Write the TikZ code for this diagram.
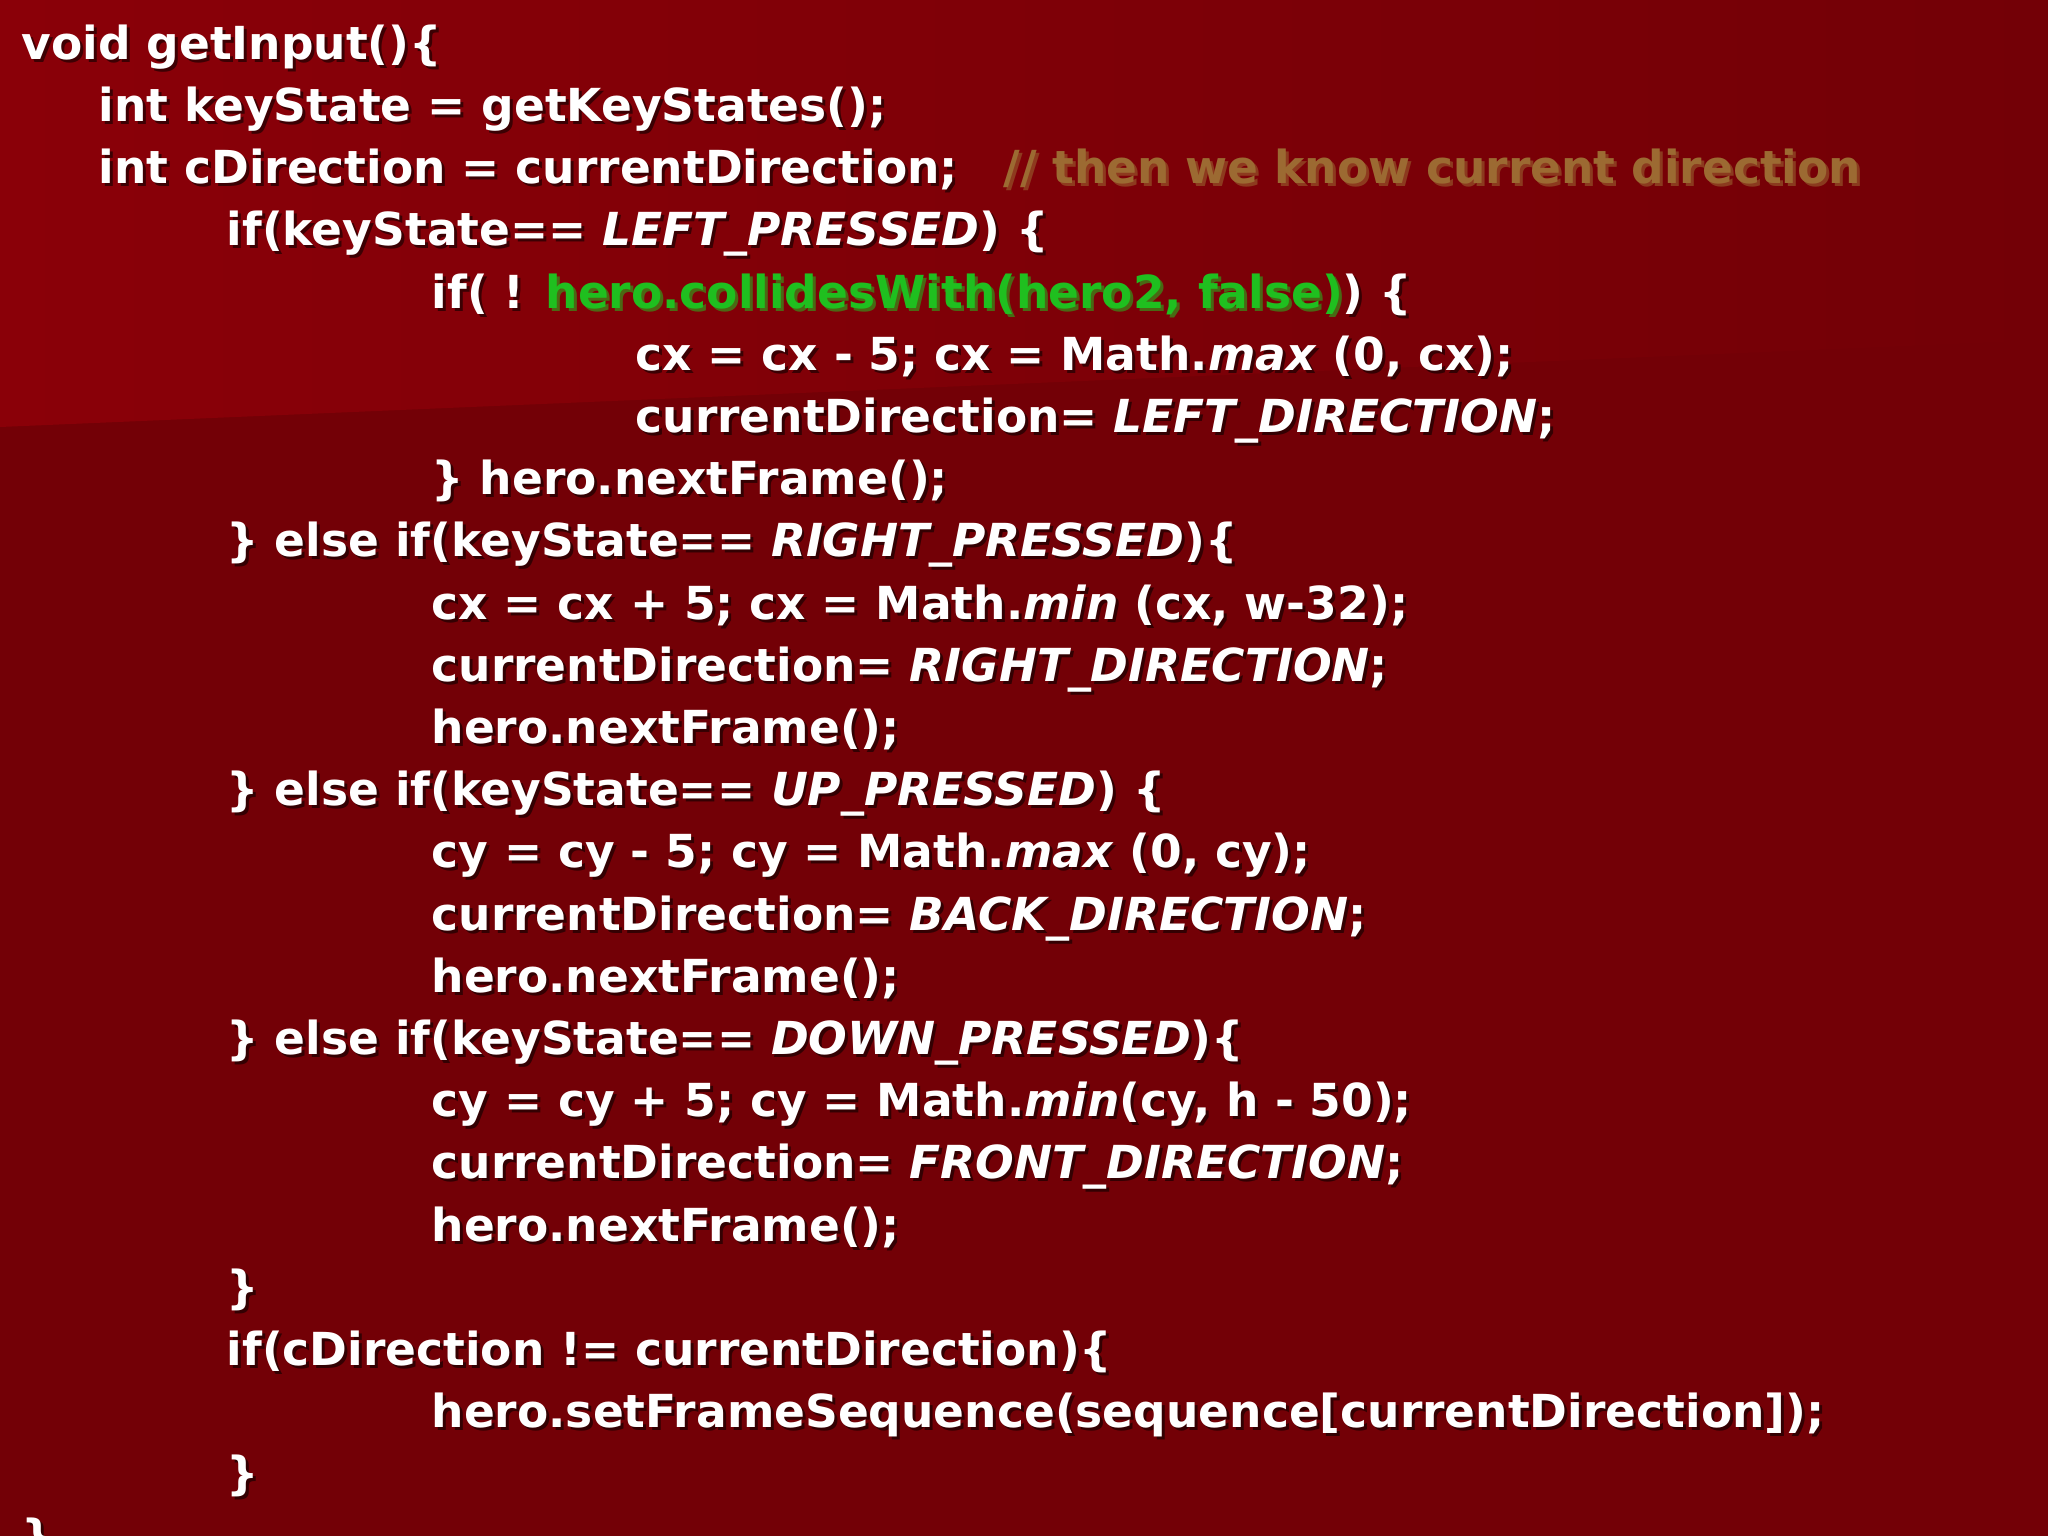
\documentclass[tikz,border=0pt]{standalone}
\usepackage{fontspec}
\setmainfont{DejaVu Sans}
\definecolor{bgred}{HTML}{730006}
\definecolor{bgtop}{HTML}{8A0008}
\definecolor{cmt}{HTML}{9C6A32}
\definecolor{grn}{HTML}{1FBF1F}
\newcommand{\I}[1]{\textit{#1}}
\newcommand{\codeline}[4]{%
  \node[codeshadow] (#1s) at (#2+0.03,{-(0.497+0.622*#3)-0.03}) {#4};
  \node[code] (#1) at (#2,{-(0.497+0.622*#3)}) {#4};}
\tikzset{
  code/.style={anchor=mid west,inner sep=0pt,text=white,font=\fontsize{12.95}{15}\selectfont\bfseries},
  codeshadow/.style={code,text=black,opacity=0.55}
}
\begin{document}
\begin{tikzpicture}
\useasboundingbox (0,0) rectangle (20.48,-15.36);
\begin{scope}
\clip (0,0) rectangle (20.48,-15.36);
\fill[bgred] (0,0) rectangle (20.48,-15.36);
\shade[left color=bgtop,right color=bgred] (0,0) -- (20.48,0) -- (20.48,-3.4) -- (0,-4.27) -- cycle;
\codeline{l0}{0.21}{0}{void getInput()\{}
\codeline{l1}{0.98}{1}{int keyState = getKeyStates();}
\codeline{l2}{0.98}{2}{int cDirection = currentDirection;\hspace{1em}\textcolor{cmt}{// then we know current direction}}
\codeline{l3}{2.26}{3}{if(keyState== \I{LEFT\_PRESSED}) \{}
\codeline{l4}{4.31}{4}{if( ! \textcolor{grn}{hero.collidesWith(hero2, false)}) \{}
\codeline{l5}{6.35}{5}{cx = cx - 5; cx = Math.\I{max} (0, cx);}
\codeline{l6}{6.35}{6}{currentDirection= \I{LEFT\_DIRECTION};}
\codeline{l7}{4.31}{7}{\} hero.nextFrame();}
\codeline{l8}{2.26}{8}{\} else if(keyState== \I{RIGHT\_PRESSED})\{}
\codeline{l9}{4.31}{9}{cx = cx + 5; cx = Math.\I{min} (cx, w-32);}
\codeline{l10}{4.31}{10}{currentDirection= \I{RIGHT\_DIRECTION};}
\codeline{l11}{4.31}{11}{hero.nextFrame();}
\codeline{l12}{2.26}{12}{\} else if(keyState== \I{UP\_PRESSED}) \{}
\codeline{l13}{4.31}{13}{cy = cy - 5; cy = Math.\I{max} (0, cy);}
\codeline{l14}{4.31}{14}{currentDirection= \I{BACK\_DIRECTION};}
\codeline{l15}{4.31}{15}{hero.nextFrame();}
\codeline{l16}{2.26}{16}{\} else if(keyState== \I{DOWN\_PRESSED})\{}
\codeline{l17}{4.31}{17}{cy = cy + 5; cy = Math.\I{min}(cy, h - 50);}
\codeline{l18}{4.31}{18}{currentDirection= \I{FRONT\_DIRECTION};}
\codeline{l19}{4.31}{19}{hero.nextFrame();}
\codeline{l20}{2.26}{20}{\}}
\codeline{l21}{2.26}{21}{if(cDirection != currentDirection)\{}
\codeline{l22}{4.31}{22}{hero.setFrameSequence(sequence[currentDirection]);}
\codeline{l23}{2.26}{23}{\}}
\codeline{l24}{0.21}{24}{\}}
\end{scope}
\end{tikzpicture}
\end{document}
